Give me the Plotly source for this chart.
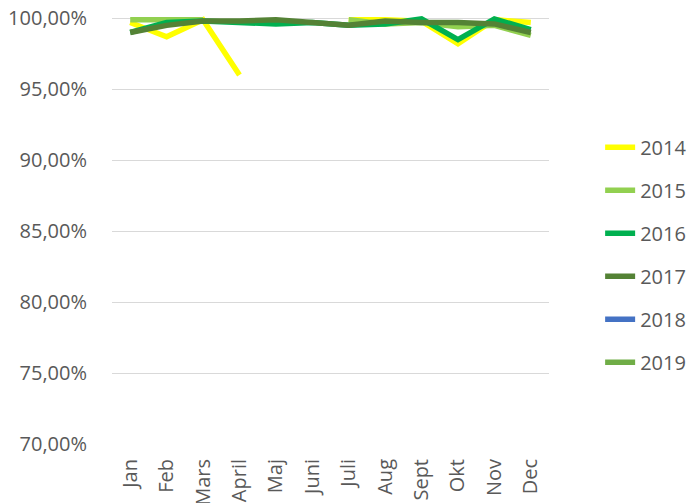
import plotly.graph_objects as go

months = ["Jan", "Feb", "Mars", "April", "Maj", "Juni", "Juli", "Aug", "Sept", "Okt", "Nov", "Dec"]
years = ["2014", "2015", "2016", "2017", "2018", "2019"]

y2014 = [99.7, 98.7, 99.9, 96.0, None, None, 99.9, 99.9, 99.8, 98.2, 99.9, 99.7]
y2015 = [99.9, 99.9, 99.9, None, None, None, 99.9, 99.6, 99.7, 99.4, 99.5, 98.8]
y2016 = [99.0, 99.7, 99.8, 99.7, 99.6, 99.7, 99.5, 99.6, 99.95, 98.5, 99.95, 99.2]
y2017 = [99.0, 99.5, 99.8, 99.8, 99.9, 99.7, 99.5, 99.8, 99.7, 99.7, 99.6, 99.0]
y2018 = [None] * 12
y2019 = [None] * 12

ytickvals = [70, 75, 80, 85, 90, 95, 100]
yticktext = ["70,00%", "75,00%", "80,00%", "85,00%", "90,00%", "95,00%", "100,00%"]

series = [y2014, y2015, y2016, y2017, y2018, y2019]
colors = ["#FFFF00", "#92D050", "#00B050", "#548235", "#4472C4", "#70AD47"]

fig = go.Figure()
for name, vals, col in zip(years, series, colors):
    fig.add_trace(go.Scatter(
        x=months, y=vals, name=name, mode="lines",
        line=dict(color=col, width=5.5), legendgroup=name,
        connectgaps=False,
    ))

font = dict(family="Open Sans, Liberation Sans, sans-serif", size=20, color="#595959")
fig.update_layout(
    width=695, height=503,
    margin=dict(l=112, r=146, t=14, b=59, autoexpand=False),
    paper_bgcolor="white", plot_bgcolor="white",
    font=font,
    showlegend=True,
    legend=dict(x=1.117, y=0.44, xanchor="left", yanchor="middle",
                tracegroupgap=14, font=font, bgcolor="rgba(0,0,0,0)"),
    xaxis=dict(type="category", range=[-0.5, 11.5], tickangle=-90, showgrid=False,
               showline=False, ticks="outside", ticklen=6,
               tickcolor="rgba(0,0,0,0)", tickfont=font, automargin=False),
    yaxis=dict(range=[70, 100.3], tickvals=ytickvals, ticktext=yticktext,
               showgrid=True, gridcolor="#D9D9D9", gridwidth=1.3,
               zeroline=False, showline=False, ticks="outside", ticklen=20,
               tickcolor="rgba(0,0,0,0)", tickfont=font, automargin=False),
)
fig.write_html("out.html", config={"displayModeBar": False},
               post_script="document.body.style.margin='0';document.body.style.overflow='hidden';")
